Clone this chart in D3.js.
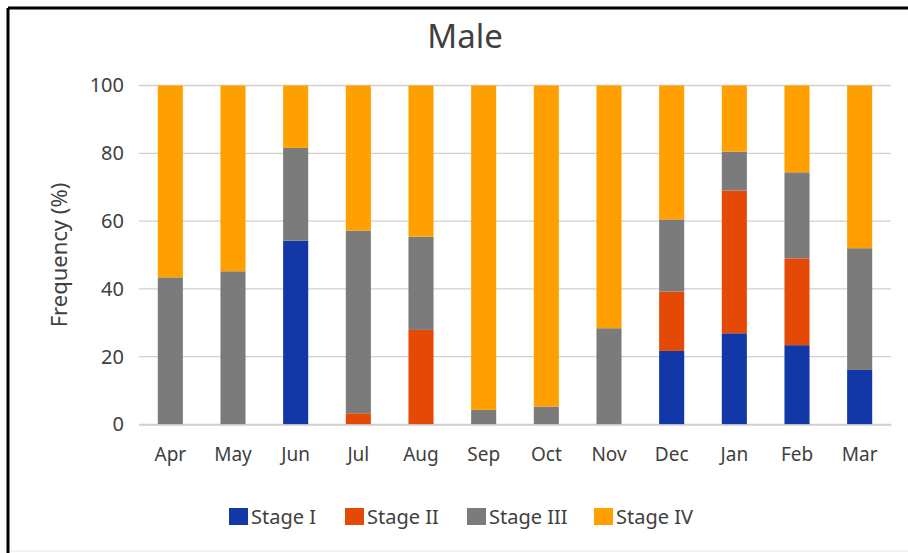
<!DOCTYPE html>
<html>
<head>
<meta charset="utf-8">
<script src="https://d3js.org/d3.v7.min.js"></script>
<style>
  body { margin: 0; background: #fff; }
  text { font-family: "Noto Sans", "Open Sans", sans-serif; fill: #404040; }
</style>
</head>
<body>
<svg id="chart" width="908" height="553"></svg>
<script>
// months along the x axis
var months = ["Apr", "May", "Jun", "Jul", "Aug", "Sep", "Oct", "Nov", "Dec", "Jan", "Feb", "Mar"];
var stages = ["Stage I", "Stage II", "Stage III", "Stage IV"];
var colors = ["#1238a8", "#e44a05", "#7b7b7b", "#ffa000"];

// percentage per stage and month
var stage1 = [0, 0, 54.2, 0, 0, 0, 0, 0, 21.7, 26.9, 23.4, 16.1];
var stage2 = [0, 0, 0, 3.3, 27.9, 0, 0, 0, 17.5, 42.1, 25.6, 0];
var stage3 = [43.4, 45.2, 27.4, 53.9, 27.5, 4.3, 5.3, 28.4, 21.3, 11.5, 25.4, 35.9];
var stage4 = [56.6, 54.8, 18.4, 42.8, 44.6, 95.7, 94.7, 71.6, 39.5, 19.5, 25.6, 48.0];
var yTicks = [0, 20, 40, 60, 80, 100];

var svg = d3.select("#chart");

// frame: black top and left edge, faint line at the bottom
svg.append("line").attr("x1", 8).attr("x2", 908).attr("y1", 8).attr("y2", 8)
    .attr("stroke", "#000").attr("stroke-width", 3);
svg.append("line").attr("x1", 8).attr("x2", 8).attr("y1", 8).attr("y2", 553)
    .attr("stroke", "#000").attr("stroke-width", 3);
svg.append("line").attr("x1", 10).attr("x2", 908).attr("y1", 551).attr("y2", 551)
    .attr("stroke", "#e8e8e8").attr("stroke-width", 1);

var x = d3.scaleBand().domain(months).range([139, 891]).paddingInner(0.6).paddingOuter(0.3);
var y = d3.scaleLinear().domain([0, 100]).range([424.5, 85.5]);

// gridlines
svg.append("g").selectAll("line").data(yTicks).enter().append("line")
    .attr("x1", 139).attr("x2", 891)
    .attr("y1", function (d) { return y(d); })
    .attr("y2", function (d) { return y(d); })
    .attr("stroke", "#d0d0d0").attr("stroke-width", 1.3);

var rows = months.map(function (m, i) {
    return { month: m, "Stage I": stage1[i], "Stage II": stage2[i], "Stage III": stage3[i], "Stage IV": stage4[i] };
});
var series = d3.stack().keys(stages)(rows);

svg.append("g").selectAll("g").data(series).enter().append("g")
    .attr("fill", function (d, i) { return colors[i]; })
    .selectAll("rect").data(function (d) { return d; }).enter().append("rect")
    .attr("x", function (d) { return x(d.data.month); })
    .attr("width", x.bandwidth())
    .attr("y", function (d) { return y(d[1]); })
    .attr("height", function (d) { return y(d[0]) - y(d[1]); });

// y axis
var yAxis = svg.append("g").attr("transform", "translate(139,0)")
    .call(d3.axisLeft(y).tickValues(yTicks).tickSize(0).tickPadding(15));
yAxis.select(".domain").remove();
yAxis.selectAll("text").style("font-size", "20px").attr("fill", "#404040");

// x axis
var xAxis = svg.append("g").attr("transform", "translate(0,424.5)")
    .call(d3.axisBottom(x).tickSize(0).tickPadding(23));
xAxis.select(".domain").attr("stroke", "#d0d0d0").attr("stroke-width", 1.3);
xAxis.selectAll("text").style("font-size", "19px").attr("fill", "#404040");

// titles
svg.append("text").attr("x", 465).attr("y", 48).attr("text-anchor", "middle")
    .style("font-size", "33px").attr("fill", "#222").text("Male");
svg.append("text").attr("transform", "translate(67,255) rotate(-90)").attr("text-anchor", "middle")
    .style("font-size", "22px").text("Frequency (%)");

// legend
var legendX = [229, 345, 467, 594];
var legend = svg.append("g").selectAll("g").data(stages).enter().append("g")
    .attr("transform", function (d, i) { return "translate(" + legendX[i] + ",508)"; });
legend.append("rect").attr("width", 19).attr("height", 17)
    .attr("fill", function (d, i) { return colors[i]; });
legend.append("text").attr("x", 22).attr("y", 16).style("font-size", "20px").text(function (d) { return d; });
</script>
</body>
</html>
